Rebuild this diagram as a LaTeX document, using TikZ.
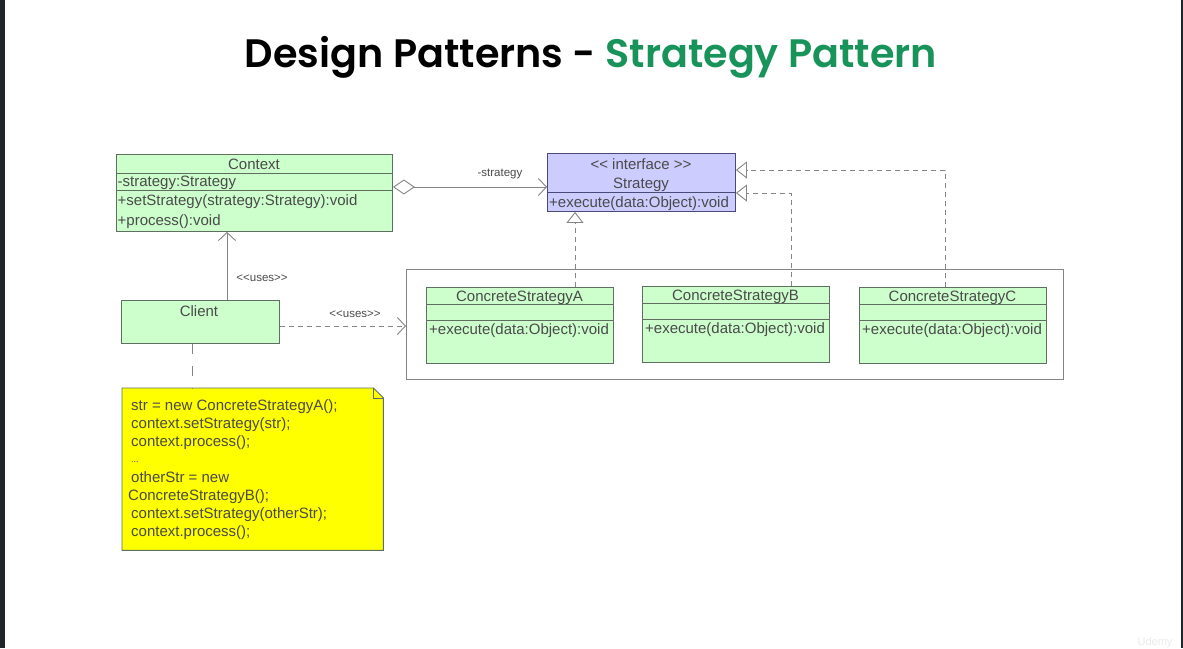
\documentclass[tikz,border=0pt]{standalone}
\usepackage{fontspec}
\setmainfont{Liberation Sans}
\newfontfamily\titlefont{Poppins SemiBold}
\usetikzlibrary{arrows.meta,calc}
\definecolor{umlgreen}{HTML}{CCFFCC}
\definecolor{umlblue}{HTML}{CCCCFF}
\definecolor{titlegreen}{HTML}{18935A}
\definecolor{txt}{HTML}{4A4A4A}
\definecolor{gborder}{HTML}{5F6F5F}
\definecolor{bborder}{HTML}{4A4A7A}
\definecolor{connc}{HTML}{858585}
\definecolor{sidebar}{HTML}{1F2529}
\definecolor{noteyellow}{HTML}{FFFF00}
\begin{document}
\begin{tikzpicture}[x=1pt,y=-1pt,
  box/.style={draw=gborder, fill=umlgreen, line width=0.9pt, inner sep=0pt, anchor=north west},
  ibox/.style={box, draw=bborder, fill=umlblue},
  lbl/.style={font=\fontsize{15}{17}\selectfont, text=txt, inner sep=0pt, yshift=-1.8pt},
  lbll/.style={lbl, anchor=west},
  small/.style={font=\fontsize{11.5}{13}\selectfont, text=txt, inner sep=0pt},
  conn/.style={draw=connc, line width=0.9pt},
  dsh/.style={dash pattern=on 5pt off 4pt},
  sep/.style={draw=gborder, line width=0.9pt},
  barb/.style={-{Straight Barb[length=8pt,width=17pt]}},
  real/.style={-{Triangle[open,length=11pt,width=17pt,fill=white]}}
]
\useasboundingbox (0,0) rectangle (1183,648);
\fill[white] (0,0) rectangle (1183,648);
\fill[sidebar] (0,0) rectangle (4.5,648);
\fill[sidebar] (1181,0) rectangle (1183,648);

% title
\node[anchor=base, inner sep=0pt] (title) at (591,67)
  {\resizebox{692pt}{!}{\titlefont Design Patterns - \textcolor{titlegreen}{Strategy Pattern}}};

% helper coordinates
\coordinate (aggY) at (0,187);
\coordinate (bY) at (0,193);
\coordinate (cY) at (0,170);
\coordinate (aX) at (575,0);
\coordinate (bX) at (791,0);
\coordinate (cX) at (945,0);
\coordinate (uX) at (227,0);
\coordinate (usY) at (0,326);
\coordinate (nX) at (192,0);

% Context
\node[box, minimum width=276pt, minimum height=77pt] (context) at (116,154) {};
\draw[sep] (116,173) -- (392,173);
\draw[sep] (116,190) -- (392,190);
\node[lbl] (ctxname) at (254,163) {Context};
\node[lbll] (ctxattr) at (117.5,181) {-strategy:Strategy};
\node[lbll] (ctxm1) at (117.5,199.5) {+setStrategy(strategy:Strategy):void};
\node[lbll] (ctxm2) at (117.5,220) {+process():void};

% Strategy interface
\node[ibox, minimum width=188pt, minimum height=58pt] (strategy) at (547,153) {};
\draw[draw=bborder, line width=0.9pt] (547,192) -- (735,192);
\node[lbl] (stster) at (641,162.5) {<{}< interface >{}>};
\node[lbl] (stname) at (641,183.5) {Strategy};
\node[lbll] (stm) at (549,201.5) {+execute(data:Object):void};

% Client
\node[box, minimum width=158pt, minimum height=43pt] (client) at (121,300) {};
\node[lbl] (clname) at (199,309.5) {Client};

% container
\node[draw=connc, line width=0.9pt, inner sep=0pt, anchor=north west, minimum width=657pt, minimum height=110pt] (container) at (406,269) {};

% Concrete strategies
\node[box, minimum width=187pt, minimum height=76pt] (csA) at (426,287) {};
\draw[sep] (426,304) -- (613,304);
\draw[sep] (426,320) -- (613,320);
\node[lbl] (csAname) at (519.5,296) {ConcreteStrategyA};
\node[lbll] (csAm) at (429,329) {+execute(data:Object):void};

\node[box, minimum width=187pt, minimum height=76pt] (csB) at (642,286) {};
\draw[sep] (642,303) -- (829,303);
\draw[sep] (642,319) -- (829,319);
\node[lbl] (csBname) at (735.5,295) {ConcreteStrategyB};
\node[lbll] (csBm) at (645,328) {+execute(data:Object):void};

\node[box, minimum width=187pt, minimum height=76pt] (csC) at (859,287) {};
\draw[sep] (859,304) -- (1046,304);
\draw[sep] (859,320) -- (1046,320);
\node[lbl] (csCname) at (952.5,296) {ConcreteStrategyC};
\node[lbll] (csCm) at (862,329) {+execute(data:Object):void};

% Note
\node[inner sep=0pt, anchor=north west, minimum width=261pt, minimum height=162pt] (note) at (122,388) {};
\draw[draw=gborder, fill=noteyellow, line width=0.9pt]
  (note.north west) -- ($(note.north east)+(-10,0)$) -- ($(note.north east)+(0,10)$)
  -- (note.south east) -- (note.south west) -- cycle;
\draw[draw=gborder, line width=0.7pt] ($(note.north east)+(-10,0)$) -- ($(note.north east)+(-10,10)$) -- ($(note.north east)+(0,10)$);
\node[lbl, anchor=north west, align=left, font=\fontsize{15}{18}\selectfont] (notetext) at (131,397.5)
  {str = new ConcreteStrategyA();\\
   context.setStrategy(str);\\
   context.process();\\
   \raisebox{2pt}{\fontsize{9}{10}\selectfont ...}\\
   otherStr = new\\
   \hspace*{-3pt}ConcreteStrategyB();\\
   context.setStrategy(otherStr);\\
   context.process();};

% Connectors
\draw[conn, {Diamond[open,length=22pt,width=15pt]}-{Straight Barb[length=8pt,width=17pt]}]
  (context.east |- aggY) -- (strategy.west |- aggY);
\node[small] (agglbl) at (500,174) {-strategy};

\draw[conn, dsh, real] (csA.north -| aX) -- (strategy.south -| aX);
\draw[conn, dsh, real] (csB.north -| bX) |- (strategy.east |- bY);
\draw[conn, dsh, real] (csC.north -| cX) |- (strategy.east |- cY);

\draw[conn, barb] (client.north -| uX) -- (context.south -| uX);
\node[small] (uses1) at (262,278) {<{}<uses>{}>};

\draw[conn, dsh, barb] (client.east |- usY) -- (container.west |- usY);
\node[small] (uses2) at (355,314) {<{}<uses>{}>};

\draw[conn, dash pattern=on 10pt off 12pt] (client.south -| nX) -- (note.north -| nX);

% watermark
\node[font=\fontsize{11}{12}\selectfont, text=black!8, inner sep=0pt] (wm) at (1155,643) {Udemy};
\end{tikzpicture}
\end{document}
